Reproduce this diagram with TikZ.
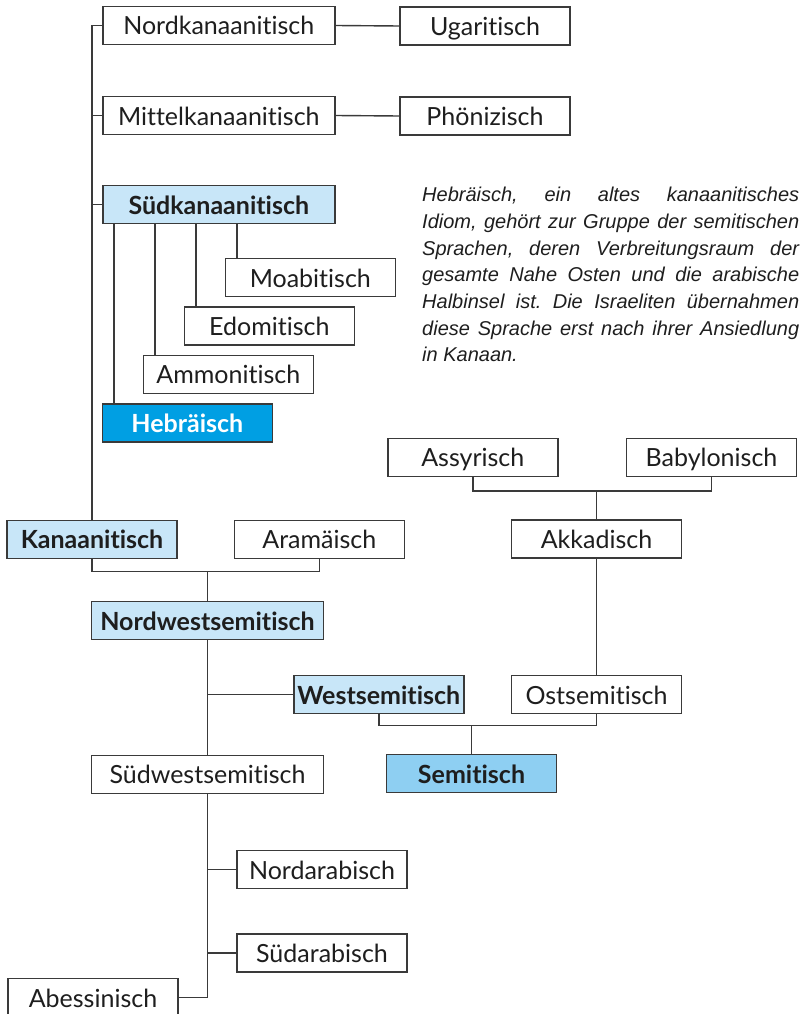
\documentclass[tikz,border=0pt]{standalone}
\usepackage{fontspec}
\setmainfont{Lato}[Ligatures={NoCommon,NoRare}, RawFeature={-liga}]
\newfontfamily\parafont{Liberation Sans}
\definecolor{lineg}{HTML}{3A3A3A}
\definecolor{txt}{HTML}{1E1E1E}
\definecolor{lightb}{HTML}{C8E6F8}
\definecolor{hebblue}{HTML}{009FE3}
\definecolor{semblue}{HTML}{8ECFF2}
\begin{document}
\frenchspacing
\begin{tikzpicture}[x=1pt,y=-1pt,
  lang/.style={draw=lineg, line width=1.4pt, fill=white, minimum height=38pt,
    minimum width=170pt, inner sep=0pt, text=txt,
    font=\fontsize{25}{25}\selectfont, text height=19pt, text depth=0pt},
  wide/.style={minimum width=232pt},
  hl/.style={fill=lightb, font=\fontsize{25}{25}\selectfont\bfseries},
  hebr/.style={fill=hebblue, text=white, font=\fontsize{25}{25}\selectfont\bfseries},
  semi/.style={fill=semblue, font=\fontsize{25}{25}\selectfont\bfseries},
  conn/.style={draw=lineg, line width=1.4pt},
  para/.style={anchor=base west, inner sep=0pt, text=txt,
    font=\parafont\itshape\fontsize{20}{26}\selectfont}]
\useasboundingbox (0,0) rectangle (801,1014);

% nodes
\node[lang,wide] (nordk) at (218.8,25.5) {Nordkanaanitisch};
\node[lang] (ugar) at (485,26) {Ugaritisch};
\node[lang,wide] (mittelk) at (218.8,115.5) {Mittelkanaanitisch};
\node[lang] (phoen) at (485,116) {Phönizisch};
\node[lang,wide,hl] (suedk) at (218.8,204.7) {Südkanaanitisch};
\node[lang] (moab) at (310.3,277.7) {Moabitisch};
\node[lang] (edom) at (269.3,325.8) {Edomitisch};
\node[lang] (ammon) at (228.3,374.2) {Ammonitisch};
\node[lang,hebr] (hebr) at (187.3,422.8) {Hebräisch};
\node[lang] (assyr) at (472.8,457.2) {Assyrisch};
\node[lang] (babyl) at (711.5,457.2) {Babylonisch};
\node[lang] (akkad) at (596.5,539) {Akkadisch};
\node[lang,hl] (kanaan) at (92,539.2) {Kanaanitisch};
\node[lang] (aram) at (319.3,539.2) {Aramäisch};
\node[lang,wide,hl] (nws) at (207.5,620.5) {Nordwestsemitisch};
\node[lang,hl] (wests) at (378.8,694.7) {Westsemitisch};
\node[lang] (osts) at (596.5,694.7) {Ostsemitisch};
\node[lang,semi] (semit) at (471.5,773.5) {Semitisch};
\node[lang,wide] (sws) at (207.5,774.2) {Südwestsemitisch};
\node[lang] (norda) at (322,869.5) {Nordarabisch};
\node[lang] (sueda) at (322,952.8) {Südarabisch};
\node[lang] (abess) at (93,997.7) {Abessinisch};

% junctions
\coordinate (j1) at (207.5,571.7);
\coordinate (j2) at (596.5,491);
\coordinate (j3) at (471.5,725.7);

% connectors
\draw[conn] (nordk.west) -| (kanaan.north);
\draw[conn] (mittelk.west) -- (mittelk.west -| kanaan.north);
\draw[conn] (suedk.west) -- (suedk.west -| kanaan.north);
\draw[conn] (nordk.east) -- (ugar.west);
\draw[conn] (mittelk.east) -- (phoen.west);
\draw[conn] ([xshift=12.4pt]hebr.north west) -- ([xshift=12.4pt]hebr.north west |- suedk.south);
\draw[conn] ([xshift=12.4pt]ammon.north west) -- ([xshift=12.4pt]ammon.north west |- suedk.south);
\draw[conn] ([xshift=12.4pt]edom.north west) -- ([xshift=12.4pt]edom.north west |- suedk.south);
\draw[conn] ([xshift=12.4pt]moab.north west) -- ([xshift=12.4pt]moab.north west |- suedk.south);
\draw[conn] (kanaan.south) |- (j1) -| (aram.south);
\draw[conn] (j1) -- (nws.north);
\draw[conn] (nws.south) -- (sws.north);
\draw[conn] (wests.west) -- (wests.west -| nws.south);
\draw[conn] (sws.south) |- (abess.east);
\draw[conn] (norda.west) -- (norda.west -| sws.south);
\draw[conn] (sueda.west) -- (sueda.west -| sws.south);
\draw[conn] (assyr.south) |- (j2) -| (babyl.south);
\draw[conn] (j2) -- (akkad.north);
\draw[conn] (akkad.south) -- (osts.north);
\draw[conn] (wests.south) |- (j3) -| (osts.south);
\draw[conn] (j3) -- (semit.north);

% paragraph
\node[para] (p1) at (422,201.7) {\makebox[377pt][s]{Hebräisch, ein altes kanaanitisches}};
\node[para] (p2) at (422,228.4) {\makebox[377pt][s]{Idiom, gehört zur Gruppe der semitischen}};
\node[para] (p3) at (422,255.0) {\makebox[377pt][s]{Sprachen, deren Verbreitungsraum der}};
\node[para] (p4) at (422,281.7) {\makebox[377pt][s]{gesamte Nahe Osten und die arabische}};
\node[para] (p5) at (422,308.4) {\makebox[377pt][s]{Halbinsel ist. Die Israeliten übernahmen}};
\node[para] (p6) at (422,335.0) {\makebox[377pt][s]{diese Sprache erst nach ihrer Ansiedlung}};
\node[para] (p7) at (422,361.7) {in Kanaan.};
\end{tikzpicture}
\end{document}
